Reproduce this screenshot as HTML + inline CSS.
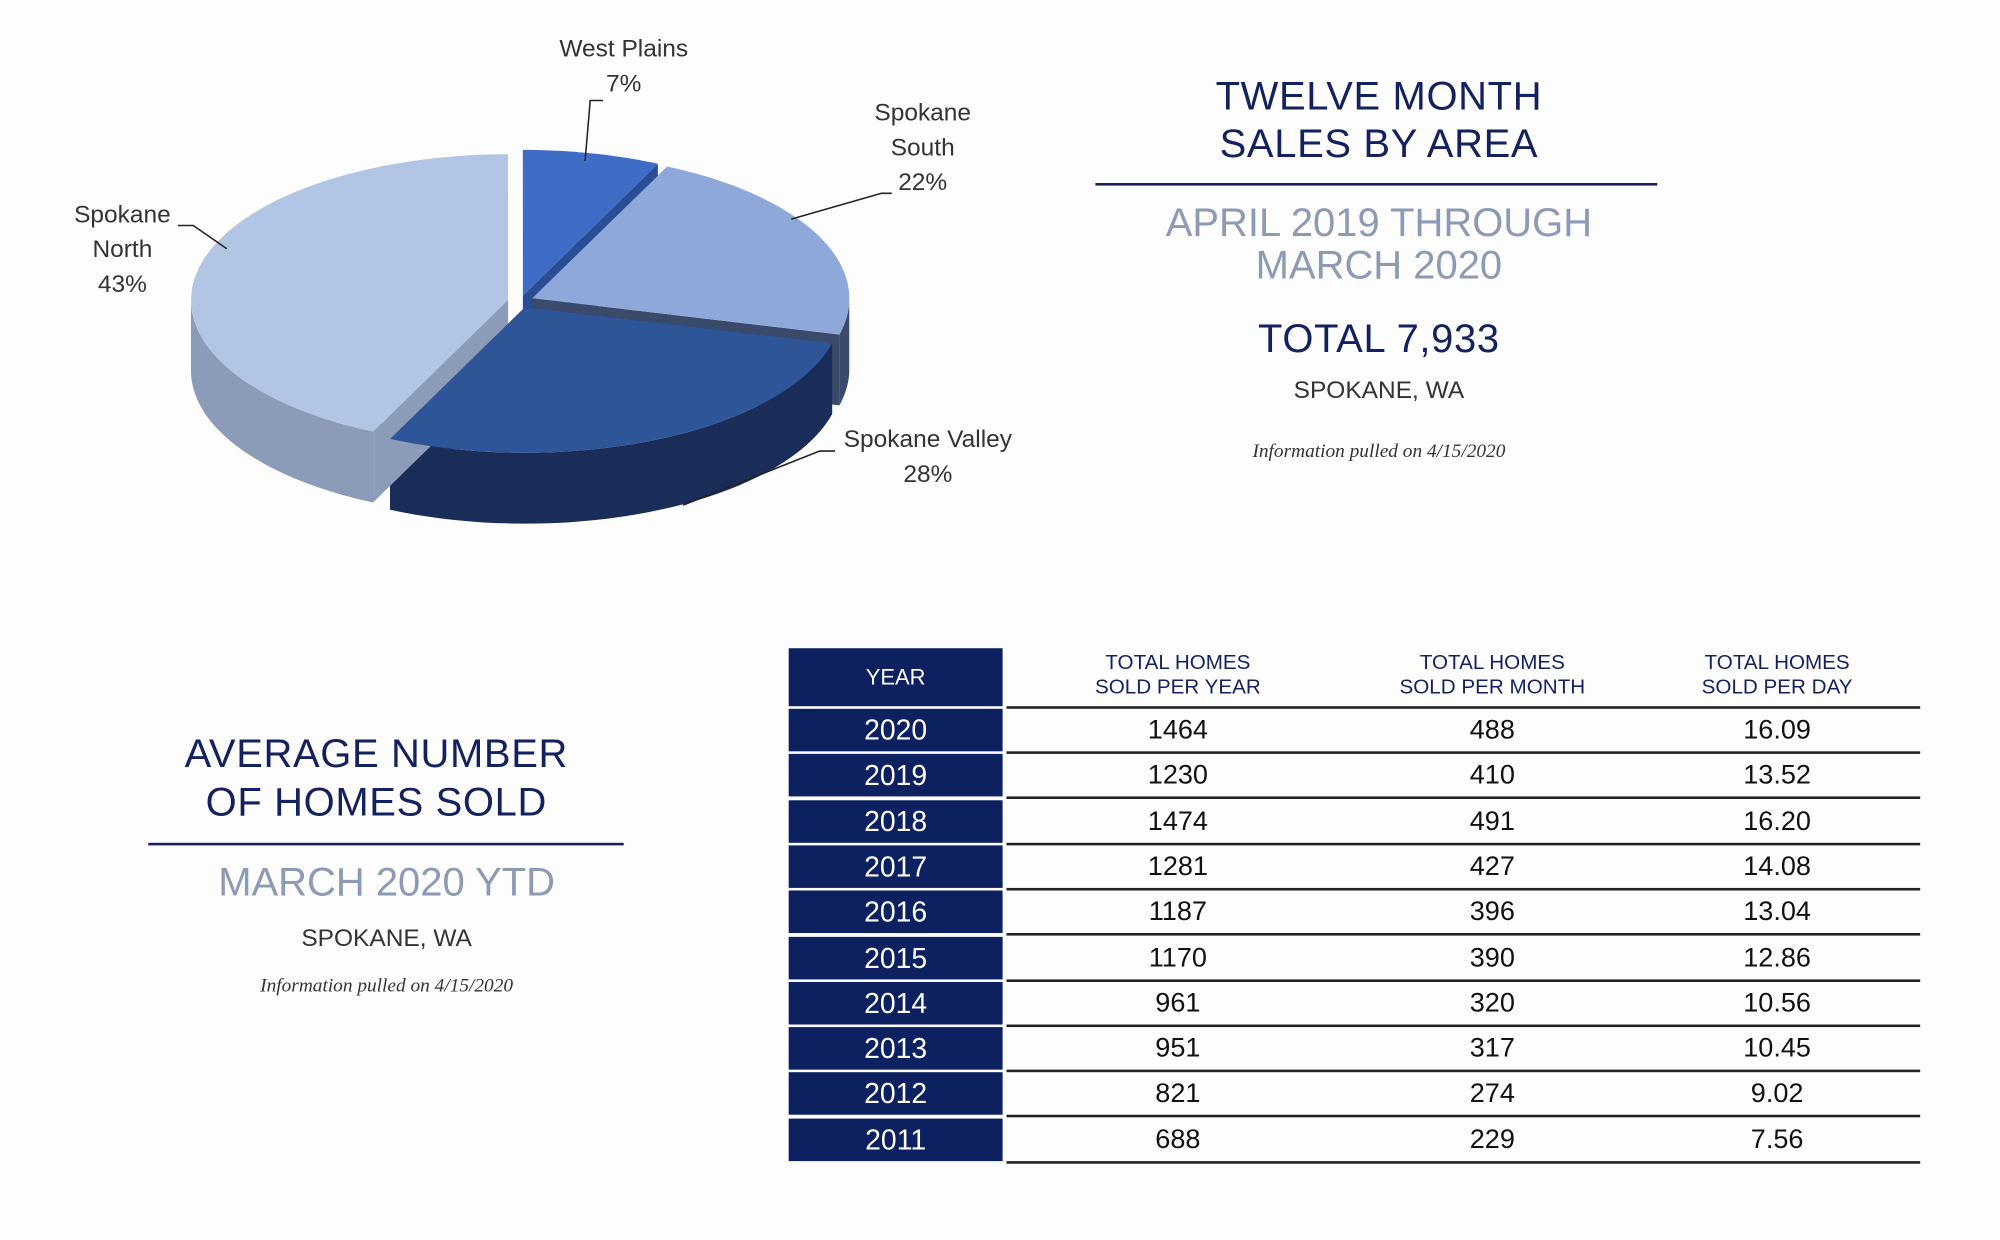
<!DOCTYPE html>
<html><head><meta charset="utf-8"><style>
html,body{margin:0;padding:0;background:#fdfdfd;}
#w{width:2000px;height:1240px;overflow:hidden;position:relative;}
#s{position:absolute;left:0;top:0;width:1552px;height:962px;transform:scale(1.2887);transform-origin:0 0;font-family:"Liberation Sans",sans-serif;}
.t{position:absolute;white-space:nowrap;text-align:center;transform:translate(-50%,-50%);}
.h{color:#13215e;font-size:31px;letter-spacing:0.5px;}
.g{color:#8c9ab3;font-size:31px;}
.c{color:#333;font-size:19px;}
.i{font-family:"Liberation Serif",serif;font-style:italic;font-size:15px;color:#333;}
.yr{position:absolute;left:612px;width:166px;background:#0d2060;color:#fff;font-size:22px;text-align:center;}
.ln{position:absolute;left:781px;width:709px;height:2px;background:#222;}
.n{color:#111;font-size:21px;}
.hd{color:#13215e;font-size:16px;line-height:19px;}
.lab{color:#333;font-size:19px;line-height:27px;}
</style></head><body><div id="w"><div id="s">
<svg id="pie" width="800" height="440" style="position:absolute;left:0;top:0"></svg>
<div class="t lab" style="left:484px;top:52px">West Plains<br>7%</div>
<div class="t lab" style="left:716px;top:115px">Spokane<br>South<br>22%</div>
<div class="t lab" style="left:95px;top:194px">Spokane<br>North<br>43%</div>
<div class="t lab" style="left:720px;top:355px">Spokane Valley<br>28%</div>

<div class="t h" style="left:1070px;top:75px">TWELVE MONTH</div>
<div class="t h" style="left:1070px;top:112px">SALES BY AREA</div>
<div style="position:absolute;left:850px;top:142px;width:436px;height:1.5px;background:#13215e"></div>
<div class="t g" style="left:1070px;top:173px">APRIL 2019 THROUGH</div>
<div class="t g" style="left:1070px;top:206px">MARCH 2020</div>
<div class="t h" style="left:1070px;top:263px">TOTAL 7,933</div>
<div class="t c" style="left:1070px;top:304px">SPOKANE, WA</div>
<div class="t i" style="left:1070px;top:351px">Information pulled on 4/15/2020</div>

<div class="t h" style="left:292px;top:585px">AVERAGE NUMBER</div>
<div class="t h" style="left:292px;top:623px">OF HOMES SOLD</div>
<div style="position:absolute;left:115px;top:654px;width:369px;height:1.5px;background:#13215e"></div>
<div class="t g" style="left:300px;top:685px">MARCH 2020 YTD</div>
<div class="t c" style="left:300px;top:729px">SPOKANE, WA</div>
<div class="t i" style="left:300px;top:766px">Information pulled on 4/15/2020</div>

<div class="yr" style="top:503px;height:45px;line-height:45px;font-size:17px">YEAR</div>
<div class="t hd" style="left:914px;top:524px">TOTAL HOMES<br>SOLD PER YEAR</div>
<div class="t hd" style="left:1158px;top:524px">TOTAL HOMES<br>SOLD PER MONTH</div>
<div class="t hd" style="left:1379px;top:524px">TOTAL HOMES<br>SOLD PER DAY</div>
<div class="ln" style="top:548px"></div>
<div id="rows"></div>
</div></div>
<script>
var d=[["2020",1464,488,"16.09"],["2019",1230,410,"13.52"],["2018",1474,491,"16.20"],["2017",1281,427,"14.08"],["2016",1187,396,"13.04"],["2015",1170,390,"12.86"],["2014",961,320,"10.56"],["2013",951,317,"10.45"],["2012",821,274,"9.02"],["2011",688,229,"7.56"]];
var h="";
d.forEach(function(r,i){var y=550+i*35.3;
h+='<div class="yr" style="top:'+y+'px;height:33px;line-height:33px">'+r[0]+'</div>';
h+='<div class="t n" style="left:914px;top:'+(y+17)+'px">'+r[1]+'</div>';
h+='<div class="t n" style="left:1158px;top:'+(y+17)+'px">'+r[2]+'</div>';
h+='<div class="t n" style="left:1379px;top:'+(y+17)+'px">'+r[3]+'</div>';
h+='<div class="ln" style="top:'+(y+33)+'px"></div>';});
document.getElementById('rows').innerHTML=h;

var cx=404,cy=234,rx=246,ry=113,D=55;
var S=[[0,25.2,"#3f6cc6","#2a4e96",8],[25.2,104.4,"#8ea8da","#3a4a6a",10],[104.4,205.2,"#2e5597","#1a2c58",8],[205.2,360,"#b3c5e4","#8b9bb8",10]];
function P(a,ox,oy,dz){a=a*Math.PI/180;return [cx+ox+rx*Math.sin(a),cy+oy-ry*Math.cos(a)+dz];}
function arc(a1,a2,ox,oy,dz,rev){var s="",n=40;for(var k=0;k<=n;k++){var t=rev?a2-(a2-a1)*k/n:a1+(a2-a1)*k/n;var p=P(t,ox,oy,dz);s+=p[0].toFixed(1)+","+p[1].toFixed(1)+" ";}return s;}
var walls="",tops="";
S.forEach(function(s){var m=(s[0]+s[1])/2*Math.PI/180;var ox=s[4]*Math.sin(m),oy=-s[4]*Math.cos(m)*0.6;
var c0=[cx+ox,cy+oy];
[s[0],s[1]].forEach(function(a){var p=P(a,ox,oy,0);walls+='<polygon points="'+c0[0]+','+c0[1]+' '+p[0]+','+p[1]+' '+p[0]+','+(p[1]+D)+' '+c0[0]+','+(c0[1]+D)+'" fill="'+s[3]+'"/>';});
var a1=Math.max(s[0],90),a2=Math.min(s[1],270);
if(a2>a1){walls+='<polygon points="'+arc(a1,a2,ox,oy,0,false)+arc(a1,a2,ox,oy,D,true)+'" fill="'+s[3]+'"/>';}
tops+='<polygon points="'+c0[0]+','+c0[1]+' '+arc(s[0],s[1],ox,oy,0,false)+'" fill="'+s[2]+'"/>';});
var L='<polyline points="454,125 458,78 468,78" fill="none" stroke="#222" stroke-width="1.2"/><polyline points="614,170 684,150 692,150" fill="none" stroke="#222" stroke-width="1.2"/><polyline points="176,193 150,175 138,175" fill="none" stroke="#222" stroke-width="1.2"/><polyline points="530,392 636,350 648,350" fill="none" stroke="#222" stroke-width="1.2"/>';
document.getElementById('pie').innerHTML=walls+tops+L;
</script>
</body></html>
